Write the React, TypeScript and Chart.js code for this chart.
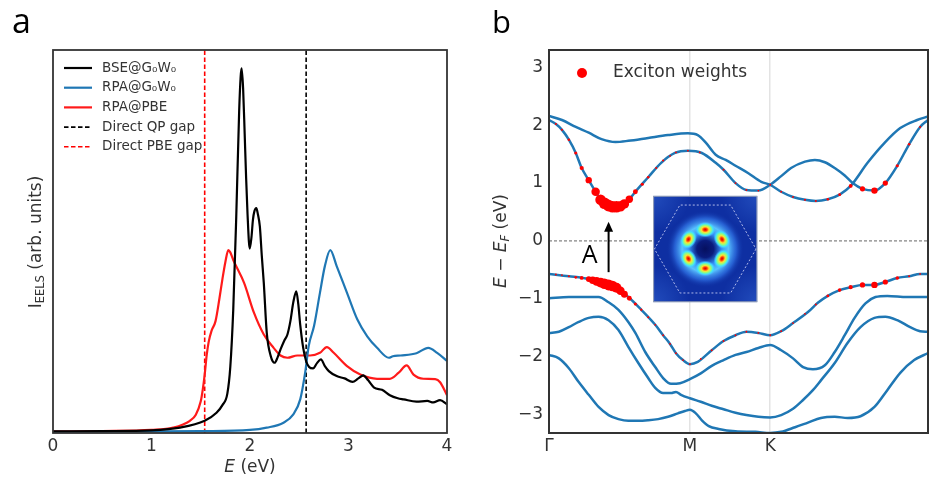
import React, { useEffect, useRef } from 'react';
import { Chart, registerables } from 'chart.js';

Chart.register(...registerables);

// ---------------- Panel a : EELS spectra ----------------
const A_SERIES = ['BSE@G₀W₀', 'RPA@G₀W₀', 'RPA@PBE', 'Direct QP gap', 'Direct PBE gap'];
const A_XTICKS = [0, 1, 2, 3, 4];

const E_BSE = [0, 0.5, 1.0, 1.29, 1.54, 1.66, 1.72, 1.77, 1.80, 1.83, 1.86, 1.89, 1.905, 1.915, 1.93, 1.946, 1.96, 1.975, 1.997, 2.015, 2.03, 2.045, 2.064, 2.08, 2.10, 2.12, 2.14, 2.17, 2.21, 2.25, 2.28, 2.31, 2.35, 2.38, 2.41, 2.44, 2.47, 2.49, 2.51, 2.54, 2.57, 2.60, 2.64, 2.68, 2.72, 2.76, 2.80, 2.88, 2.96, 3.04, 3.10, 3.15, 3.20, 3.26, 3.34, 3.42, 3.50, 3.56, 3.69, 3.80, 3.86, 3.93, 4.0];
const I_BSE = [0.001, 0.002, 0.004, 0.011, 0.029, 0.05, 0.07, 0.10, 0.17, 0.32, 0.56, 0.84, 0.93, 0.952, 0.90, 0.78, 0.67, 0.57, 0.48, 0.51, 0.556, 0.578, 0.586, 0.57, 0.538, 0.46, 0.39, 0.26, 0.199, 0.181, 0.195, 0.216, 0.24, 0.255, 0.29, 0.34, 0.368, 0.335, 0.28, 0.22, 0.185, 0.17, 0.166, 0.18, 0.19, 0.172, 0.159, 0.146, 0.14, 0.131, 0.14, 0.148, 0.135, 0.116, 0.11, 0.096, 0.088, 0.085, 0.079, 0.081, 0.077, 0.083, 0.072];

const E_GW = [0, 1.0, 1.5, 2.0, 2.17, 2.34, 2.44, 2.51, 2.56, 2.596, 2.65, 2.71, 2.76, 2.815, 2.88, 2.985, 3.09, 3.19, 3.29, 3.41, 3.45, 3.53, 3.69, 3.81, 3.90, 4.0];
const I_GW = [0, 0.001, 0.002, 0.005, 0.011, 0.024, 0.046, 0.085, 0.155, 0.225, 0.277, 0.364, 0.434, 0.476, 0.434, 0.364, 0.294, 0.25, 0.22, 0.194, 0.198, 0.20, 0.206, 0.22, 0.207, 0.186];

const E_PBE = [0, 0.5, 1.0, 1.22, 1.39, 1.45, 1.50, 1.52, 1.54, 1.56, 1.58, 1.61, 1.65, 1.69, 1.72, 1.75, 1.78, 1.80, 1.83, 1.94, 2.04, 2.14, 2.24, 2.31, 2.38, 2.48, 2.61, 2.71, 2.78, 2.85, 2.985, 3.12, 3.29, 3.42, 3.51, 3.59, 3.66, 3.76, 3.88, 3.93, 4.0];
const I_PBE = [0.001, 0.002, 0.005, 0.011, 0.029, 0.045, 0.08, 0.11, 0.15, 0.20, 0.235, 0.265, 0.29, 0.35, 0.40, 0.445, 0.476, 0.47, 0.45, 0.39, 0.312, 0.255, 0.22, 0.20, 0.194, 0.20, 0.20, 0.207, 0.222, 0.207, 0.172, 0.15, 0.139, 0.139, 0.155, 0.174, 0.15, 0.139, 0.138, 0.13, 0.096];

const QP_GAP = 2.57;
const PBE_GAP = 1.54;
const A_YMIN = -0.003;
const A_YMAX = 1.0;

// ---------------- Panel b : band structure ----------------
const K_TICKS = [0, 1, 1.57];
const K_LABELS = ['Γ', 'M', 'K'];
const K_END = 2.69;
const E_TICKS = [-3, -2, -1, 0, 1, 2, 3];
const B_YMIN = -3.32;
const B_YMAX = 3.30;

const CA_K = [0, 0.049, 0.092, 0.141, 0.190, 0.232, 0.282, 0.331, 0.373, 0.423, 0.472, 0.514, 0.563, 0.613, 0.704, 0.796, 0.894, 0.986, 1.085, 1.183, 1.239, 1.324, 1.401, 1.486, 1.570, 1.648, 1.718, 1.817, 1.887, 1.958, 2.028, 2.099, 2.155, 2.225, 2.310, 2.387, 2.472, 2.556, 2.634, 2.69];
const CA_E = [2.09, 2.02, 1.92, 1.75, 1.52, 1.26, 1.05, 0.85, 0.69, 0.61, 0.59, 0.61, 0.70, 0.85, 1.10, 1.35, 1.52, 1.56, 1.52, 1.35, 1.23, 1.00, 0.88, 0.87, 0.97, 1.12, 1.26, 1.37, 1.40, 1.36, 1.26, 1.13, 1.00, 0.90, 0.87, 1.00, 1.30, 1.67, 1.97, 2.09];

const CB_K = [0, 0.092, 0.190, 0.282, 0.373, 0.472, 0.563, 0.704, 0.845, 0.986, 1.056, 1.113, 1.183, 1.254, 1.324, 1.415, 1.507, 1.570, 1.648, 1.732, 1.817, 1.894, 1.979, 2.063, 2.141, 2.261, 2.380, 2.493, 2.613, 2.69];
const CB_E = [2.16, 2.09, 1.97, 1.87, 1.76, 1.71, 1.73, 1.78, 1.83, 1.86, 1.83, 1.70, 1.49, 1.40, 1.30, 1.17, 1.02, 0.97, 0.85, 0.76, 0.71, 0.69, 0.72, 0.80, 0.95, 1.35, 1.69, 1.95, 2.09, 2.15];

const V1_K = [0, 0.141, 0.282, 0.373, 0.472, 0.563, 0.655, 0.754, 0.810, 0.859, 0.901, 0.951, 1.0, 1.056, 1.155, 1.239, 1.324, 1.401, 1.486, 1.570, 1.648, 1.732, 1.838, 1.908, 1.979, 2.063, 2.141, 2.225, 2.310, 2.387, 2.472, 2.556, 2.634, 2.69];
const V1_E = [-0.57, -0.61, -0.66, -0.73, -0.81, -0.97, -1.19, -1.45, -1.63, -1.78, -1.94, -2.06, -2.13, -2.09, -1.89, -1.73, -1.63, -1.57, -1.59, -1.63, -1.56, -1.42, -1.23, -1.07, -0.95, -0.85, -0.80, -0.76, -0.76, -0.71, -0.64, -0.61, -0.57, -0.57];

const V2_K = [0, 0.141, 0.282, 0.352, 0.423, 0.493, 0.563, 0.613, 0.683, 0.754, 0.810, 0.866, 0.930, 1.0, 1.077, 1.155, 1.239, 1.324, 1.401, 1.486, 1.570, 1.648, 1.732, 1.803, 1.873, 1.958, 2.028, 2.099, 2.169, 2.246, 2.317, 2.401, 2.542, 2.69];
const V2_E = [-0.99, -0.97, -0.97, -0.97, -1.06, -1.19, -1.40, -1.59, -1.92, -2.18, -2.37, -2.47, -2.46, -2.39, -2.29, -2.16, -2.06, -1.97, -1.92, -1.85, -1.80, -1.89, -2.03, -2.18, -2.22, -2.15, -1.92, -1.63, -1.33, -1.08, -0.97, -0.95, -0.97, -0.97];

const V3_K = [0, 0.070, 0.141, 0.211, 0.282, 0.352, 0.423, 0.493, 0.563, 0.634, 0.704, 0.754, 0.810, 0.866, 0.901, 0.937, 1.0, 1.077, 1.155, 1.239, 1.324, 1.401, 1.486, 1.570, 1.648, 1.732, 1.803, 1.873, 1.930, 2.028, 2.120, 2.211, 2.310, 2.387, 2.472, 2.563, 2.634, 2.69];
const V3_E = [-1.59, -1.57, -1.49, -1.40, -1.33, -1.31, -1.37, -1.54, -1.83, -2.11, -2.37, -2.54, -2.63, -2.63, -2.61, -2.66, -2.72, -2.78, -2.85, -2.91, -2.97, -3.01, -3.04, -3.05, -3.01, -2.90, -2.75, -2.58, -2.41, -2.11, -1.76, -1.49, -1.33, -1.31, -1.37, -1.49, -1.56, -1.57];

const V4_K = [0, 0.070, 0.141, 0.211, 0.282, 0.352, 0.423, 0.493, 0.563, 0.634, 0.704, 0.775, 0.845, 0.915, 0.965, 1.0, 1.042, 1.085, 1.134, 1.204, 1.324, 1.465, 1.570, 1.648, 1.746, 1.838, 1.930, 2.028, 2.120, 2.211, 2.310, 2.401, 2.493, 2.592, 2.69];
const V4_E = [-1.97, -2.03, -2.20, -2.44, -2.66, -2.87, -3.01, -3.08, -3.11, -3.11, -3.10, -3.08, -3.04, -2.98, -2.94, -2.92, -2.98, -3.10, -3.20, -3.25, -3.29, -3.30, -3.32, -3.30, -3.22, -3.14, -3.06, -3.04, -3.06, -3.03, -2.87, -2.58, -2.28, -2.06, -1.94];

// exciton weights on the conduction band
const XC_K = [0.049, 0.092, 0.141, 0.190, 0.232, 0.282, 0.331, 0.366, 0.394, 0.423, 0.451, 0.479, 0.507, 0.535, 0.570, 0.613, 0.662, 0.704, 0.761, 0.810, 0.859, 0.901, 0.986, 1.070, 1.239, 1.324, 1.401, 1.486, 1.570, 1.648, 1.732, 1.817, 1.894, 1.979, 2.063, 2.141, 2.225, 2.310, 2.387, 2.472, 2.556, 2.634];
const XC_E = [2.02, 1.92, 1.75, 1.52, 1.26, 1.05, 0.85, 0.71, 0.65, 0.61, 0.59, 0.59, 0.60, 0.64, 0.72, 0.85, 0.98, 1.10, 1.26, 1.39, 1.47, 1.53, 1.56, 1.53, 1.23, 1.00, 0.88, 0.87, 0.97, 0.85, 0.76, 0.71, 0.69, 0.72, 0.80, 0.95, 0.90, 0.87, 1.00, 1.30, 1.67, 1.97];
const XC_W = [0.18, 0.18, 0.22, 0.27, 0.36, 0.55, 0.73, 0.91, 1.0, 1.0, 1.0, 1.0, 0.91, 0.82, 0.64, 0.42, 0.27, 0.22, 0.18, 0.18, 0.16, 0.16, 0.15, 0.15, 0.16, 0.16, 0.16, 0.16, 0.16, 0.16, 0.16, 0.18, 0.18, 0.22, 0.25, 0.33, 0.45, 0.55, 0.45, 0.27, 0.22, 0.18];

// exciton weights on the valence band
const XV_K = [0.049, 0.092, 0.141, 0.190, 0.232, 0.282, 0.310, 0.338, 0.366, 0.394, 0.423, 0.451, 0.479, 0.507, 0.535, 0.570, 0.613, 0.655, 0.704, 0.754, 0.810, 0.859, 0.901, 0.951, 1.000, 1.077, 1.155, 1.239, 1.324, 1.401, 1.486, 1.570, 1.648, 1.732, 1.817, 1.894, 1.979, 2.063, 2.141, 2.225, 2.310, 2.387, 2.472, 2.556, 2.634];
const XV_E = [-0.58, -0.59, -0.61, -0.63, -0.64, -0.66, -0.68, -0.70, -0.72, -0.74, -0.76, -0.78, -0.81, -0.86, -0.92, -0.99, -1.09, -1.19, -1.32, -1.45, -1.63, -1.78, -1.94, -2.06, -2.13, -2.04, -1.89, -1.73, -1.63, -1.57, -1.59, -1.63, -1.56, -1.42, -1.26, -1.10, -0.95, -0.85, -0.80, -0.76, -0.76, -0.71, -0.64, -0.61, -0.57];
const XV_W = [0.16, 0.16, 0.18, 0.24, 0.33, 0.49, 0.64, 0.76, 0.85, 0.91, 0.95, 0.91, 0.85, 0.73, 0.6, 0.42, 0.27, 0.2, 0.18, 0.16, 0.16, 0.16, 0.16, 0.16, 0.16, 0.16, 0.16, 0.16, 0.16, 0.16, 0.16, 0.16, 0.16, 0.16, 0.16, 0.18, 0.24, 0.31, 0.36, 0.45, 0.55, 0.45, 0.31, 0.18, 0.15];

// annotation: transition A and inset (data coordinates)
const ARROW_K = 0.423;
const ARROW_FROM = -0.54;
const ARROW_TO = 0.33;
const LABEL_A = { k: 0.289, e: -0.26, text: 'A' };
const INSET = { k0: 0.739, k1: 1.479, eTop: 0.78, eBot: -1.06 };
const B_LEGEND = 'Exciton weights';

// ---------------- helpers ----------------
const FONT = '"DejaVu Sans", sans-serif';
const TXT = '#333333';
const BLUE = '#1f77b4';
const RED = '#ff0000';

const pts = (xs: number[], ys: number[]) => xs.map((x, i) => ({ x, y: ys[i] }));

type Part = { t: string; font: string; dy?: number };
function richText(ctx: CanvasRenderingContext2D, parts: Part[], x: number, y: number, rotate = false) {
  ctx.save();
  ctx.translate(x, y);
  if (rotate) ctx.rotate(-Math.PI / 2);
  ctx.textBaseline = 'middle';
  ctx.textAlign = 'left';
  ctx.fillStyle = TXT;
  let total = 0;
  for (const p of parts) { ctx.font = p.font; total += ctx.measureText(p.t).width; }
  let cx = -total / 2;
  for (const p of parts) {
    ctx.font = p.font;
    ctx.fillText(p.t, cx, p.dy || 0);
    cx += ctx.measureText(p.t).width;
  }
  ctx.restore();
}

function drawInset(ctx: CanvasRenderingContext2D, x0: number, y0: number, x1: number, y1: number) {
  const w = x1 - x0, h = y1 - y0;
  const cx = (x0 + x1) / 2, cy = (y0 + y1) / 2;
  ctx.save();
  ctx.beginPath(); ctx.rect(x0, y0, w, h); ctx.clip();
  ctx.fillStyle = '#0e2fa2';
  ctx.fillRect(x0, y0, w, h);
  const corners = [[x0, y0], [x1, y0], [x0, y1], [x1, y1]];
  for (const [qx, qy] of corners) {
    const g = ctx.createRadialGradient(qx, qy, 0, qx, qy, w * 0.35);
    g.addColorStop(0, 'rgba(50,100,210,0.55)');
    g.addColorStop(1, 'rgba(50,100,210,0)');
    ctx.fillStyle = g; ctx.fillRect(x0, y0, w, h);
  }
  const hr = w * 0.37;
  const halo = ctx.createRadialGradient(cx, cy, 0, cx, cy, hr);
  halo.addColorStop(0, 'rgba(6,16,95,1)');
  halo.addColorStop(0.22, 'rgba(10,28,125,1)');
  halo.addColorStop(0.42, 'rgba(50,140,245,1)');
  halo.addColorStop(0.6, 'rgba(90,195,255,1)');
  halo.addColorStop(0.8, 'rgba(50,120,235,0.65)');
  halo.addColorStop(1, 'rgba(14,47,162,0)');
  ctx.fillStyle = halo; ctx.beginPath(); ctx.arc(cx, cy, hr, 0, 2 * Math.PI); ctx.fill();
  const R = w * 0.186;
  for (let k = 0; k < 6; k++) {
    const a = -Math.PI / 2 + k * Math.PI / 3;
    ctx.save();
    ctx.translate(cx + R * Math.cos(a), cy + R * Math.sin(a));
    ctx.rotate(a + Math.PI / 2);
    ctx.scale(1, 0.75);
    const r = w * 0.1;
    const g = ctx.createRadialGradient(0, 0, 0, 0, 0, r);
    g.addColorStop(0, '#d00000');
    g.addColorStop(0.16, '#ff3000');
    g.addColorStop(0.36, '#ffe030');
    g.addColorStop(0.55, '#90ff80');
    g.addColorStop(0.75, '#40e0ff');
    g.addColorStop(1, 'rgba(80,180,255,0)');
    ctx.fillStyle = g; ctx.beginPath(); ctx.arc(0, 0, r, 0, 2 * Math.PI); ctx.fill();
    ctx.restore();
  }
  const Rh = w * 0.487;
  ctx.strokeStyle = 'rgba(230,230,255,0.75)'; ctx.lineWidth = 1; ctx.setLineDash([2, 2]);
  ctx.beginPath();
  for (let k = 0; k <= 6; k++) {
    const a = k * Math.PI / 3;
    const px = cx + Rh * Math.cos(a), py = cy + Rh * Math.sin(a);
    if (k === 0) ctx.moveTo(px, py); else ctx.lineTo(px, py);
  }
  ctx.stroke();
  ctx.restore();
  ctx.save();
  ctx.strokeStyle = '#9aa4b8'; ctx.lineWidth = 1;
  ctx.strokeRect(x0 + 0.5, y0 + 0.5, w - 1, h - 1);
  ctx.restore();
}

// ---------------- plugins ----------------
const panelAPlugin = {
  id: 'panelA',
  afterDraw(chart: any) {
    const { ctx, chartArea: ca } = chart;
    ctx.save();
    ctx.strokeStyle = '#333'; ctx.lineWidth = 1.8; ctx.setLineDash([]);
    ctx.strokeRect(ca.left, ca.top, ca.right - ca.left, ca.bottom - ca.top);
    const styles = [
      { c: '#000', d: [] as number[] }, { c: BLUE, d: [] }, { c: '#ff1a1a', d: [] },
      { c: '#000', d: [4.5, 2.5] }, { c: RED, d: [4.5, 2.5] },
    ];
    const lx = ca.left + 11, ly = ca.top + 18, dy = 19.7;
    A_SERIES.forEach((label, i) => {
      const y = ly + i * dy;
      ctx.beginPath();
      ctx.setLineDash(styles[i].d);
      ctx.strokeStyle = styles[i].c; ctx.lineWidth = styles[i].d.length ? 1.6 : 2.2;
      ctx.moveTo(lx, y); ctx.lineTo(lx + 28, y); ctx.stroke();
      ctx.setLineDash([]);
      ctx.font = `13.5px ${FONT}`; ctx.fillStyle = TXT;
      ctx.textBaseline = 'middle'; ctx.textAlign = 'left';
      ctx.fillText(label, lx + 38, y);
    });
    richText(ctx, [
      { t: 'I', font: `17px ${FONT}` },
      { t: 'EELS', font: `11.5px ${FONT}`, dy: 4 },
      { t: ' (arb. units)', font: `17px ${FONT}` },
    ], 37, 242, true);
    richText(ctx, [
      { t: 'E', font: `italic 17px ${FONT}` },
      { t: ' (eV)', font: `17px ${FONT}` },
    ], (ca.left + ca.right) / 2, 468);
    ctx.font = '34px "Open Sans", sans-serif'; ctx.fillStyle = '#000';
    ctx.textBaseline = 'alphabetic'; ctx.textAlign = 'left';
    ctx.fillText('a', 12, 33);
    ctx.restore();
  },
};

const panelBPlugin = {
  id: 'panelB',
  afterDatasetsDraw(chart: any) {
    const { ctx, chartArea: ca, scales } = chart;
    const xs = scales.x, ys = scales.y;
    drawInset(ctx, xs.getPixelForValue(INSET.k0), ys.getPixelForValue(INSET.eTop), xs.getPixelForValue(INSET.k1), ys.getPixelForValue(INSET.eBot));
    const ax = xs.getPixelForValue(ARROW_K);
    const ay1 = ys.getPixelForValue(ARROW_FROM), ay2 = ys.getPixelForValue(ARROW_TO);
    ctx.save();
    ctx.strokeStyle = '#000'; ctx.fillStyle = '#000'; ctx.lineWidth = 2;
    ctx.beginPath(); ctx.moveTo(ax, ay1); ctx.lineTo(ax, ay2 + 8); ctx.stroke();
    ctx.beginPath(); ctx.moveTo(ax, ay2); ctx.lineTo(ax - 4.5, ay2 + 10); ctx.lineTo(ax + 4.5, ay2 + 10); ctx.closePath(); ctx.fill();
    ctx.font = '25px "Open Sans", sans-serif'; ctx.textAlign = 'center'; ctx.textBaseline = 'middle';
    ctx.fillText(LABEL_A.text, xs.getPixelForValue(LABEL_A.k), ys.getPixelForValue(LABEL_A.e));
    const lx = ca.left + 33, ly = ca.top + 23;
    ctx.fillStyle = RED; ctx.beginPath(); ctx.arc(lx, ly, 5, 0, 2 * Math.PI); ctx.fill();
    ctx.font = `17px ${FONT}`; ctx.fillStyle = TXT; ctx.textAlign = 'left'; ctx.textBaseline = 'middle';
    ctx.fillText(B_LEGEND, ca.left + 64, ly);
    ctx.restore();
  },
  afterDraw(chart: any) {
    const { ctx, chartArea: ca } = chart;
    ctx.save();
    ctx.strokeStyle = '#333'; ctx.lineWidth = 2; ctx.setLineDash([]);
    ctx.strokeRect(ca.left, ca.top, ca.right - ca.left, ca.bottom - ca.top);
    richText(ctx, [
      { t: 'E', font: `italic 17px ${FONT}` },
      { t: ' − ', font: `17px ${FONT}` },
      { t: 'E', font: `italic 17px ${FONT}` },
      { t: 'F', font: `italic 11.5px ${FONT}`, dy: 4 },
      { t: ' (eV)', font: `17px ${FONT}` },
    ], 32, 241, true);
    ctx.font = '31px "Open Sans", sans-serif'; ctx.fillStyle = '#000';
    ctx.textBaseline = 'alphabetic'; ctx.textAlign = 'left';
    ctx.fillText('b', 22, 33);
    ctx.restore();
  },
};

const tickFont = { family: FONT, size: 17 };

function makeChartA(canvas: HTMLCanvasElement) {
  const curve = { pointRadius: 0, borderWidth: 2.2, cubicInterpolationMode: 'monotone' as const, fill: false };
  return new Chart(canvas, {
    type: 'line',
    data: {
      datasets: [
        { label: A_SERIES[0], data: pts(E_BSE, I_BSE), borderColor: '#000', ...curve },
        { label: A_SERIES[1], data: pts(E_GW, I_GW), borderColor: BLUE, ...curve },
        { label: A_SERIES[2], data: pts(E_PBE, I_PBE), borderColor: '#ff1a1a', ...curve },
        { label: A_SERIES[3], data: [{ x: QP_GAP, y: A_YMIN }, { x: QP_GAP, y: A_YMAX }], borderColor: '#000', borderDash: [4.5, 2.5], borderWidth: 1.6, pointRadius: 0 },
        { label: A_SERIES[4], data: [{ x: PBE_GAP, y: A_YMIN }, { x: PBE_GAP, y: A_YMAX }], borderColor: RED, borderDash: [4.5, 2.5], borderWidth: 1.6, pointRadius: 0 },
      ],
    },
    options: {
      responsive: false,
      animation: false,
      events: [],
      layout: { padding: { left: 0, right: 23, top: 50, bottom: 0 } },
      plugins: { legend: { display: false }, tooltip: { enabled: false } },
      scales: {
        x: {
          type: 'linear', min: 0, max: 4,
          afterFit: (s: any) => { s.height = 48; },
          afterBuildTicks: (s: any) => { s.ticks = A_XTICKS.map((v) => ({ value: v })); },
          grid: { display: false, drawTicks: false },
          border: { display: false },
          ticks: { font: tickFont, color: TXT, padding: 3, autoSkip: false, maxRotation: 0, callback: (v: any) => String(v) },
        },
        y: {
          type: 'linear', min: A_YMIN, max: A_YMAX,
          afterFit: (s: any) => { s.width = 53; },
          grid: { display: false, drawTicks: false },
          border: { display: false },
          ticks: { display: false },
        },
      },
    } as any,
    plugins: [panelAPlugin],
  });
}

function makeChartB(canvas: HTMLCanvasElement) {
  const band = { pointRadius: 0, borderWidth: 2.5, borderColor: BLUE, cubicInterpolationMode: 'monotone' as const, fill: false };
  const dots = (k: number[], e: number[], w: number[]) => ({
    data: pts(k, e), showLine: false, pointRadius: (c: any) => 5.8 * w[c.dataIndex], pointBorderWidth: 0,
    pointBackgroundColor: RED, pointBorderColor: RED, borderColor: RED,
  });
  return new Chart(canvas, {
    type: 'line',
    data: {
      datasets: [
        { label: 'exciton c', ...dots(XC_K, XC_E, XC_W) },
        { label: 'exciton v', ...dots(XV_K, XV_E, XV_W) },
        { label: 'c1', data: pts(CA_K, CA_E), ...band },
        { label: 'c2', data: pts(CB_K, CB_E), ...band },
        { label: 'v1', data: pts(V1_K, V1_E), ...band },
        { label: 'v2', data: pts(V2_K, V2_E), ...band },
        { label: 'v3', data: pts(V3_K, V3_E), ...band },
        { label: 'v4', data: pts(V4_K, V4_E), ...band },
        { label: 'EF', data: [{ x: 0, y: 0 }, { x: K_END, y: 0 }], borderColor: '#666', borderWidth: 1, borderDash: [3, 2], pointRadius: 0 },
      ],
    } as any,
    options: {
      responsive: false,
      animation: false,
      events: [],
      layout: { padding: { left: 0, right: 1, top: 50, bottom: 0 } },
      plugins: { legend: { display: false }, tooltip: { enabled: false } },
      scales: {
        x: {
          type: 'linear', min: 0, max: K_END,
          afterFit: (s: any) => { s.height = 48; },
          afterBuildTicks: (s: any) => { s.ticks = K_TICKS.map((v) => ({ value: v })); },
          grid: { drawTicks: false, lineWidth: 1.5, color: (c: any) => (c.tick && c.tick.value > 0 ? '#e3e3e3' : 'rgba(0,0,0,0)') },
          border: { display: false },
          ticks: { font: tickFont, color: TXT, padding: 3, autoSkip: false, maxRotation: 0, callback: (v: any) => K_LABELS[K_TICKS.indexOf(v)] ?? '' },
        },
        y: {
          type: 'linear', min: B_YMIN, max: B_YMAX,
          afterFit: (s: any) => { s.width = 79; },
          afterBuildTicks: (s: any) => { s.ticks = E_TICKS.map((v) => ({ value: v })); },
          grid: { display: false, drawTicks: false },
          border: { display: false },
          ticks: { font: tickFont, color: TXT, padding: 6, callback: (v: any) => (v < 0 ? '−' + Math.abs(v) : String(v)) },
        },
      },
    } as any,
    plugins: [panelBPlugin],
  });
}

export default function App() {
  const refA = useRef<HTMLCanvasElement>(null);
  const refB = useRef<HTMLCanvasElement>(null);
  useEffect(() => {
    Chart.defaults.font.family = FONT;
    const a = makeChartA(refA.current!);
    const b = makeChartB(refB.current!);
    return () => { a.destroy(); b.destroy(); };
  }, []);
  return (
    <div style={{ position: 'absolute', left: 0, top: 0, width: 932, height: 481, overflow: 'hidden', background: '#fff' }}>
      <canvas ref={refA} width={470} height={481} style={{ position: 'absolute', left: 0, top: 0, width: 470, height: 481 }} />
      <canvas ref={refB} width={462} height={481} style={{ position: 'absolute', left: 470, top: 0, width: 462, height: 481 }} />
    </div>
  );
}
